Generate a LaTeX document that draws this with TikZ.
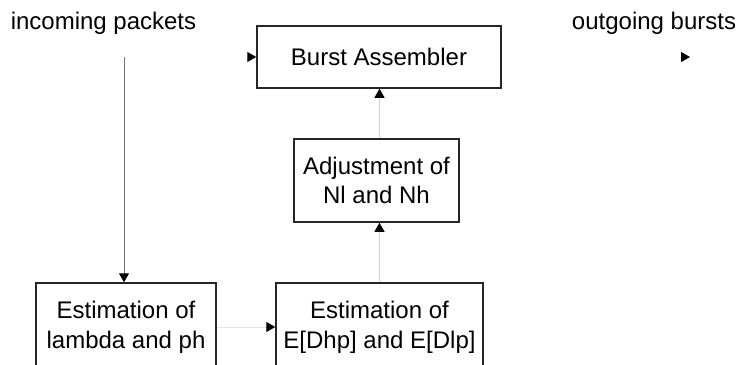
\documentclass[tikz,border=0pt]{standalone}
\usepackage{fontspec}
\setmainfont{Liberation Sans}
\usetikzlibrary{arrows.meta}
\begin{document}
\begin{tikzpicture}[x=0.5pt,y=-0.5pt,
  box/.style={draw=black!85,line width=0.75pt,rectangle,inner sep=0pt,align=center,
    font=\fontsize{12}{14.8}\selectfont},
  lbl/.style={inner sep=0pt,font=\fontsize{12}{14.5}\selectfont},
  tip/.style={-{Triangle[length=4.5pt,width=5pt,color=black]}},
  conn/.style={tip,draw=black!18,line width=0.5pt},
  inv/.style={tip,draw=white,line width=0.5pt}]
\useasboundingbox (0,0) rectangle (737,364);
\begin{scope}
\clip (0,0) rectangle (737,364);
\node[lbl] (inc) at (103.5,23) {incoming packets};
\node[lbl] (outg) at (654,23) {outgoing bursts};
\node[box,minimum width=122pt,minimum height=31pt] (burst) at (379,57) {Burst Assembler};
\node[box,minimum width=82.5pt,minimum height=41.5pt] (adj) at (376.5,180.5) {Adjustment of\\Nl and Nh};
\node[box,minimum width=90pt,minimum height=44pt] (lam) at (126,327) {Estimation of\\lambda and ph};
\node[box,minimum width=103.5pt,minimum height=44pt] (est) at (379.5,327) {Estimation of\\E[Dhp] and E[Dlp]};
\coordinate (in1) at (124,57);
\coordinate (in2) at (243,57);
\coordinate (o1) at (677,57);
\coordinate (o2) at (690,57);
\draw[tip,draw=black!55,line width=0.5pt] (in1) -- (in1 |- lam.north);
\draw[inv] (in2) -- (burst.west);
\draw[inv] (o1) -- (o2);
\draw[conn,draw=black!10] (lam.east |- est.west) -- (est.west);
\draw[conn] (est.north) -- (est.north |- adj.south);
\draw[conn] (est.north |- adj.north) -- (est.north |- burst.south);
\end{scope}
\end{tikzpicture}
\end{document}
